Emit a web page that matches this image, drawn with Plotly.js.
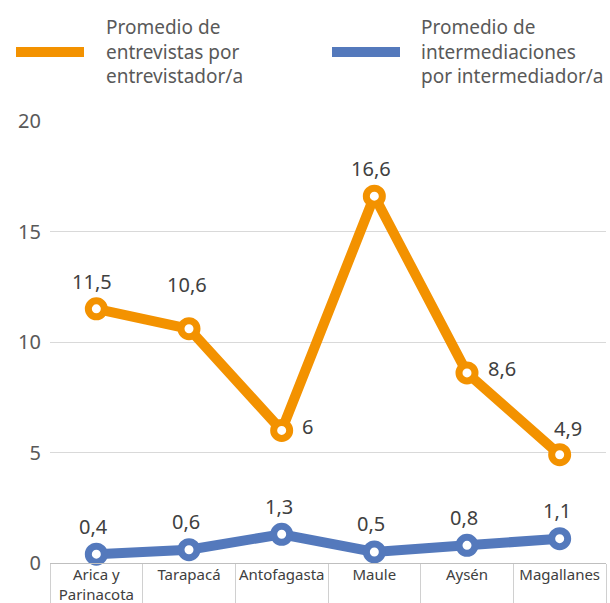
<!DOCTYPE html>
<html><head><meta charset="utf-8">
<script src="https://cdn.plot.ly/plotly-3.0.1.min.js"></script>
<style>body{margin:0;background:#fff}#c{width:610px;height:603px}</style>
</head><body><div id="c"></div>
<script>
var categories = ['Arica y<br>Parinacota','Tarapacá','Antofagasta','Maule','Aysén','Magallanes'];
var entrevistas = [11.5, 10.6, 6, 16.6, 8.6, 4.9];
var intermediaciones = [0.4, 0.6, 1.3, 0.5, 0.8, 1.1];
var seriesNames = ['Promedio de<br>entrevistas por<br>entrevistador/a','Promedio de<br>intermediaciones<br>por intermediador/a'];
var yTicks = [0,5,10,15,20];

function lab(v){return String(v).replace('.',',');}
var ORANGE = '#F39200', BLUE = '#5479BC';
var font = 'Noto Sans, sans-serif';
var W = 556, H = 442, L = 50, T = 121;
function px(x){return (x-L)/W;}
function py(y){return 1-(y-T)/H;}

// label placement (pixel offsets from each marker)
var entPlace = [{dx:-4,dy:27,a:'center'},{dx:-2,dy:44,a:'center'},{dx:18,dy:4,a:'left'},{dx:-3,dy:28,a:'center'},{dx:19,dy:4,a:'left'},{dx:8,dy:26,a:'center'}];
var intPlace = {dx:-3,dy:28,a:'center'};

var traces = [
 {x: categories, y: entrevistas, type:'scatter', mode:'lines+markers',
  line:{color:ORANGE,width:10}, marker:{symbol:'circle',size:16,color:'#fff',line:{color:ORANGE,width:7}},
  cliponaxis:false, showlegend:false},
 {x: categories, y: intermediaciones, type:'scatter', mode:'lines+markers',
  line:{color:BLUE,width:10}, marker:{symbol:'circle',size:16,color:'#fff',line:{color:BLUE,width:7}},
  cliponaxis:false, showlegend:false}
];

var ann = [
  {text:seriesNames[0],xref:'paper',yref:'paper',x:px(104),y:py(12),xanchor:'left',yanchor:'top',align:'left',showarrow:false,font:{size:19,color:'#595959'}},
  {text:seriesNames[1],xref:'paper',yref:'paper',x:px(419),y:py(12),xanchor:'left',yanchor:'top',align:'left',showarrow:false,font:{size:19,color:'#595959'}}
];
entrevistas.forEach(function(v,i){
  var p = entPlace[i];
  ann.push({x:categories[i], y:v, xref:'x', yref:'y', text:lab(v), showarrow:false, xanchor:p.a, yanchor:'middle',
    xshift:p.dx, yshift:p.dy, font:{size:20,color:'#404040'}});
});
intermediaciones.forEach(function(v,i){
  ann.push({x:categories[i], y:v, xref:'x', yref:'y', text:lab(v), showarrow:false, xanchor:intPlace.a, yanchor:'middle',
    xshift:intPlace.dx, yshift:intPlace.dy, font:{size:20,color:'#404040'}});
});

var layout = {
 width:610, height:603, margin:{l:L,r:610-L-W,t:T,b:603-T-H},
 paper_bgcolor:'#fff', plot_bgcolor:'#fff',
 font:{family:font,color:'#595959'},
 xaxis:{type:'category', range:[-0.5,5.5], autorange:false, tickson:'boundaries', ticks:'outside', ticklen:40, tickcolor:'#d0d0d0',
   showgrid:false, showline:true, linecolor:'#bfbfbf', linewidth:1, tickangle:0, ticklabelstandoff:-2,
   tickfont:{size:15,color:'#404040'}},
 yaxis:{range:[0,20], autorange:false, tickvals:yTicks, ticktext:yTicks.map(String), showgrid:true, gridcolor:'#d9d9d9',
   zeroline:false, showline:false, ticks:'', tickfont:{size:20,color:'#595959'}, ticklabelstandoff:8},
 shapes:[
  {type:'line',xref:'paper',yref:'paper',x0:px(16),x1:px(84),y0:py(52),y1:py(52),line:{color:ORANGE,width:10},layer:'above'},
  {type:'line',xref:'paper',yref:'paper',x0:px(332),x1:px(400),y0:py(52),y1:py(52),line:{color:BLUE,width:10},layer:'above'}
 ],
 annotations: ann
};
Plotly.newPlot('c', traces, layout, {displayModeBar:false, staticPlot:true});
</script></body></html>
